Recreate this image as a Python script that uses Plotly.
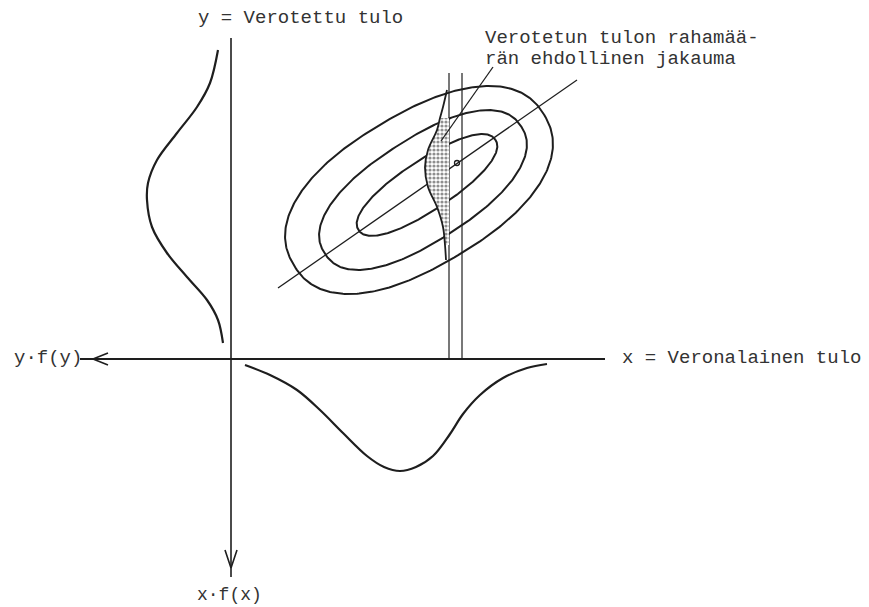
import numpy as np
import plotly.graph_objects as go

# Diagram coordinates: origin at the crossing of the axes, y upwards.
# Marginal density of y (drawn to the left of the y axis)
fy_x = [-13, -21, -34, -54, -74, -83, -84, -79, -64, -44, -24, -13, -8]
fy_y = [309, 276, 252, 226, 199, 176, 159, 132, 106, 82, 59, 39, 16]

# Marginal density of x (drawn below the x axis)
fx_x = [14, 39, 66, 89, 112, 136, 153, 169, 185, 202, 219, 232, 249, 272, 296, 316]
fx_y = [-6, -16, -31, -51, -74, -97, -108, -112, -108, -97, -75, -55, -36, -19, -9, -5]

# Contour curves of the joint density: centre x, centre y, semi-major, semi-minor, tilt (deg)
ell_cx = [188, 192, 196]
ell_cy = [169, 169, 174]
ell_a = [146, 117, 82]
ell_b = [76, 51, 25]
ell_tilt = [31, 33, 33.5]
ell_round = [2.3, 2.3, 2.2]

# Regression line
reg_x = [47, 346]
reg_y = [71, 279]

# Conditional mean point
cm_x = [226]
cm_y = [196]

# Strip of x values (two vertical lines)
strip_x = [218, 231]
strip_top = 286

# Conditional density curve (left boundary)
cond_x = [216, 212, 209, 206, 197, 194, 197, 206, 212, 214, 215]
cond_y = [269, 252, 241, 229, 209, 192, 172, 152, 132, 114, 99]
# Shaded part of it
shade_x = [209, 206, 197, 194, 197, 206, 212, 214, 218, 218, 209]
shade_y = [241, 229, 209, 192, 172, 152, 132, 114, 114, 241, 241]

# Pointer line from the note to the shaded area
ptr_x = [262, 210]
ptr_y = [292, 218]

# Axes
xaxis_line = ([-151, 374], [0, 0])
yaxis_line = ([0, 0], [321, -218])
left_arrow = ([-123, -138, -123], [6, 0, -6])
down_arrow = ([-6, 0, 6], [-191, -209, -191])

INK = "#1e1e1e"
TXT = "#333333"
FONT = "Liberation Mono"

fig = go.Figure()

def line(x, y, w=2.0, color=INK, shape="linear"):
    fig.add_trace(go.Scatter(x=x, y=y, mode="lines",
                             line=dict(color=color, width=w, shape=shape),
                             hoverinfo="skip"))

# axes
line(*xaxis_line, w=1.8)
line(*yaxis_line, w=1.6)
line(*left_arrow, w=1.6)
line(*down_arrow, w=1.6)

# marginal densities
line(fy_x, fy_y, w=2.2, shape="spline")
line(fx_x, fx_y, w=2.2, shape="spline")

# contour curves (slightly squarish ellipses)
t = np.linspace(0, 2 * np.pi, 361)
for cx, cy, a, b, th, n in zip(ell_cx, ell_cy, ell_a, ell_b, ell_tilt, ell_round):
    r = np.deg2rad(th)
    c, s = np.cos(t), np.sin(t)
    u = a * np.sign(c) * np.abs(c) ** (2 / n)
    v = b * np.sign(s) * np.abs(s) ** (2 / n)
    ex = cx + u * np.cos(r) - v * np.sin(r)
    ey = cy + u * np.sin(r) + v * np.cos(r)
    line(ex, ey, w=2.0)

# regression line
line(reg_x, reg_y, w=1.3)

# strip
for sx in strip_x:
    line([sx, sx], [strip_top, 0], w=1.2)

# shaded conditional density
fig.add_trace(go.Scatter(x=shade_x, y=shade_y, mode="lines", fill="toself",
                         line=dict(width=0, color="rgba(0,0,0,0)"),
                         fillcolor="rgba(255,255,255,0)",
                         fillpattern=dict(shape=".", fgcolor="#1e1e1e", bgcolor="white",
                                          size=4, solidity=0.5),
                         hoverinfo="skip"))
line(cond_x, cond_y, w=1.8, shape="spline")

# conditional mean marker
fig.add_trace(go.Scatter(x=cm_x, y=cm_y, mode="markers",
                         marker=dict(symbol="circle-open", size=5, color=INK,
                                     line=dict(width=1.3)),
                         hoverinfo="skip"))

# pointer
line(ptr_x, ptr_y, w=1.3)

def text(x, y, s, anchor="left", size=19):
    fig.add_annotation(x=x, y=y, text=s, showarrow=False, xanchor=anchor,
                       yanchor="middle", font=dict(family=FONT, size=size, color=TXT))

text(69, 341, "y = Verotettu tulo", anchor="center")
text(252, 321, "Verotetun tulon rahamää-")
text(252, 300, "rän ehdollinen jakauma")
text(-219, 1, "y·f(y)")
text(389, 1, "x = Veronalainen tulo")
text(-2, -236, "x·f(x)", anchor="center", size=18)

# the page has an 8px body margin, so the figure is 8px smaller and the
# ranges start 8px in, keeping the diagram where the reference has it
fig.update_layout(
    width=861, height=599,
    margin=dict(l=0, r=0, t=0, b=0),
    paper_bgcolor="white", plot_bgcolor="white",
    showlegend=False,
    xaxis=dict(range=[-223, 638], visible=False, fixedrange=True),
    yaxis=dict(range=[-248, 351], visible=False, fixedrange=True),
)

fig.write_html("out.html")
